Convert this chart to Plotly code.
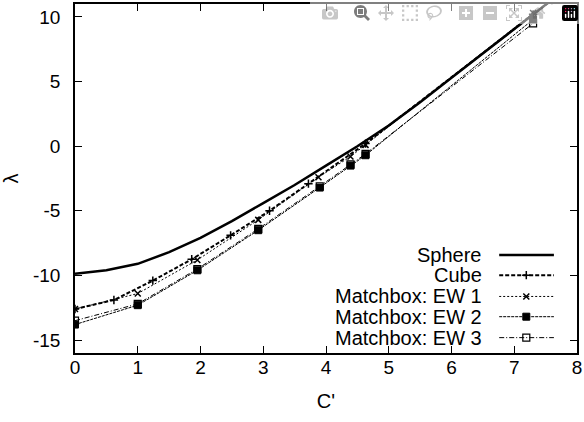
import plotly.graph_objects as go

# ---- data ----
sphere_x = [0, 0.5, 1, 1.5, 2, 2.5, 3, 3.5, 4, 4.5, 5, 5.5, 6, 6.5, 7, 7.5, 7.7]
sphere_y = [-9.87, -9.6, -9.1, -8.2, -7.1, -5.8, -4.4, -3.0, -1.5, 0.0, 1.6, 3.4, 5.3, 7.2, 9.1, 11.0, 11.7]

cube_x = [0, 0.62, 1.24, 1.86, 2.48, 3.1, 3.72, 4.63, 7.3, 7.6]
cube_y = [-12.6, -11.9, -10.4, -8.75, -6.9, -5.0, -2.9, 0.2, 10.2, 11.3]

ew1_x = [0, 1, 1.95, 2.92, 3.88, 4.39, 4.63, 7.3]
ew1_y = [-12.6, -11.4, -8.8, -5.7, -2.4, -0.8, 0.1, 10.3]

ew2_x = [0, 1, 1.95, 2.92, 3.9, 4.39, 4.63, 7.3]
ew2_y = [-13.8, -12.3, -9.6, -6.5, -3.2, -1.5, -0.7, 9.8]

ew3_x = [0, 1, 1.95, 2.92, 3.9, 4.39, 4.63, 7.3]
ew3_y = [-13.5, -12.2, -9.5, -6.4, -3.1, -1.4, -0.6, 9.5]

x_ticks = [0, 1, 2, 3, 4, 5, 6, 7, 8]
x_tick_text = ["0", "1", "2", "3", "4", "5", "6", "7", "8"]
y_ticks = [-15, -10, -5, 0, 5, 10]
y_tick_text = ["-15", "-10", "-5", "0", "5", "10"]

legend_names = ["Sphere", "Cube", "Matchbox: EW 1", "Matchbox: EW 2", "Matchbox: EW 3"]

FONT = "Liberation Sans, Arial, Helvetica, sans-serif"
BLACK = "#000000"

styles = [
    dict(line=dict(color=BLACK, width=2.5, dash="solid"), mode="lines", marker=None),
    dict(line=dict(color=BLACK, width=2, dash="4px,2px"), mode="lines+markers",
         marker=dict(symbol="cross-thin", size=6, line=dict(color=BLACK, width=1.5))),
    dict(line=dict(color=BLACK, width=1, dash="2px,2px"), mode="lines+markers",
         marker=dict(symbol="x-thin", size=6, line=dict(color=BLACK, width=1.5))),
    dict(line=dict(color=BLACK, width=1, dash="3px,1px"), mode="lines+markers",
         marker=dict(symbol="square", size=7, color=BLACK, line=dict(color=BLACK, width=1))),
    dict(line=dict(color=BLACK, width=1, dash="5px,2px,1px,2px"), mode="lines+markers",
         marker=dict(symbol="square-open", size=7, color=BLACK, line=dict(color=BLACK, width=1.2))),
]

series = [(sphere_x, sphere_y), (cube_x, cube_y), (ew1_x, ew1_y), (ew2_x, ew2_y), (ew3_x, ew3_y)]

fig = go.Figure()
for (xs, ys), st, name in zip(series, styles, legend_names):
    kw = dict(x=xs, y=ys, mode=st["mode"], line=st["line"], name=name, showlegend=False,
              cliponaxis=True)
    if st["marker"] is not None:
        kw["marker"] = st["marker"]
    fig.add_trace(go.Scatter(**kw))

# ---- gnuplot-style key (text right, sample at right) on an overlay 0..1 axis ----
row_y = [0.281, 0.223, 0.162, 0.104, 0.044]
sx0, sx1, sxm = 0.845, 0.954, 0.899
for name, st, ry in zip(legend_names, styles, row_y):
    fig.add_trace(go.Scatter(x=[sx0, sx1], y=[ry, ry], mode="lines", line=st["line"],
                             xaxis="x2", yaxis="y2", showlegend=False, hoverinfo="skip"))
    if st["marker"] is not None:
        fig.add_trace(go.Scatter(x=[sxm], y=[ry], mode="markers", marker=st["marker"],
                                 xaxis="x2", yaxis="y2", showlegend=False, hoverinfo="skip"))
    fig.add_annotation(x=0.815, y=ry, xref="paper", yref="paper", text=name,
                       showarrow=False, xanchor="right", yanchor="middle",
                       font=dict(family=FONT, size=20, color=BLACK))

axis_common = dict(
    showgrid=False, zeroline=False, showline=True, linecolor=BLACK, linewidth=1.5,
    mirror="ticks", ticks="inside", ticklen=7, tickwidth=1.2, tickcolor=BLACK,
    tickfont=dict(family=FONT, size=19, color=BLACK), ticklabeloverflow="allow",
    automargin=False,
)

fig.update_layout(
    width=584, height=422,
    margin=dict(l=75, r=7, t=4, b=69),
    paper_bgcolor="white", plot_bgcolor="white",
    xaxis=dict(range=[0, 8], tickvals=x_ticks, ticktext=x_tick_text, ticklabelstandoff=-4,
               title=dict(text="C'", font=dict(family=FONT, size=20, color=BLACK), standoff=17),
               **axis_common),
    yaxis=dict(range=[-16, 11], tickvals=y_ticks, ticktext=y_tick_text, ticklabelstandoff=9,
               title=dict(text="λ", font=dict(family=FONT, size=20, color=BLACK), standoff=16),
               **axis_common),
    xaxis2=dict(overlaying="x", range=[0, 1], visible=False, fixedrange=True),
    yaxis2=dict(overlaying="y", range=[0, 1], visible=False, fixedrange=True),
    showlegend=False,
)

# remove the browser's default 8px body margin so the figure sits at the page origin
fig.write_html("out.html", post_script="document.body.style.margin='0';document.body.style.overflow='hidden';")
